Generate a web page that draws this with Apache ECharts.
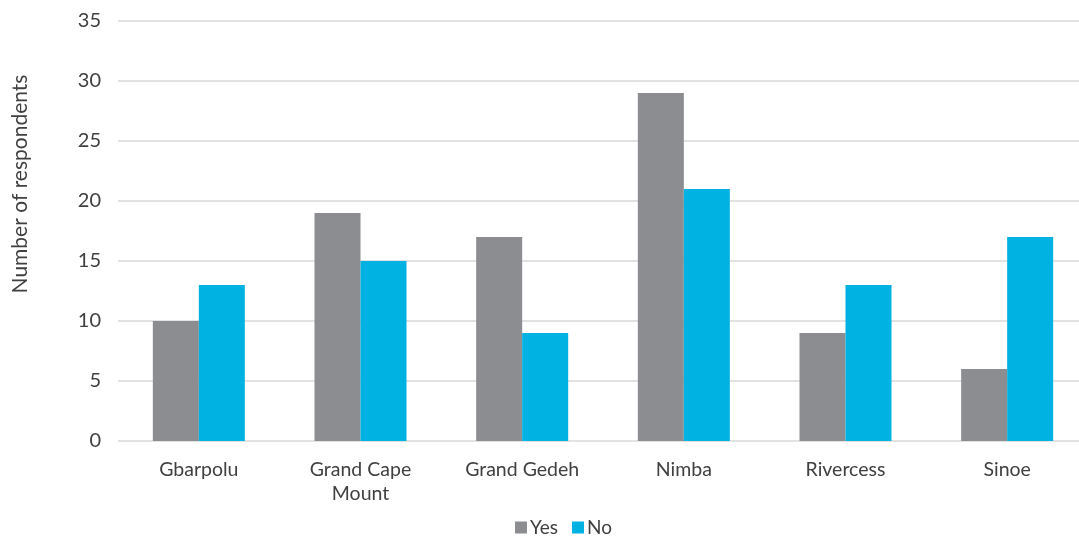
<!DOCTYPE html>
<html>
<head>
<meta charset="utf-8">
<script src="https://cdn.jsdelivr.net/npm/echarts@6/dist/echarts.min.js"></script>
<style>html,body{margin:0;padding:0;background:#fff;overflow:hidden;width:1079px;height:537px;}#c{width:1088px;height:537px;}</style>
</head>
<body>
<div id="c"></div>
<script>
const categories = ['Gbarpolu', 'Grand Cape\nMount', 'Grand Gedeh', 'Nimba', 'Rivercess', 'Sinoe'];
const yesValues = [10, 19, 17, 29, 9, 6];
const noValues = [13, 15, 9, 21, 13, 17];
const yAxisTitle = 'Number of respondents';

const chart = echarts.init(document.getElementById('c'));
const font = 'Lato, "Open Sans", sans-serif';
chart.setOption({
  animation: false,
  textStyle: { fontFamily: font },
  grid: { left: 118, top: 21, right: 0, height: 420 },
  legend: {
    top: 513, left: 510,
    itemWidth: 12, itemHeight: 12, itemGap: 14,
    icon: 'rect',
    textStyle: { fontSize: 19, color: '#404040', fontFamily: font, padding: [0, 0, 0, -2] },
    data: ['Yes', 'No']
  },
  graphic: [{
    type: 'text', x: 20, y: 184, rotation: Math.PI / 2,
    style: { text: yAxisTitle, font: '21px ' + font, fill: '#404040', textAlign: 'center', textVerticalAlign: 'middle' },
    silent: true
  }],
  xAxis: {
    type: 'category', data: categories,
    axisLine: { show: false }, axisTick: { show: false },
    axisLabel: { fontSize: 19.5, color: '#404040', margin: 17, lineHeight: 24, interval: 0 }
  },
  yAxis: {
    type: 'value', min: 0, max: 35, interval: 5,
    axisLine: { show: false }, axisTick: { show: false },
    axisLabel: { fontSize: 20, color: '#404040', margin: 17 },
    splitLine: { lineStyle: { color: '#d9d9d9', width: 1.5 } }
  },
  series: [
    { name: 'Yes', type: 'bar', data: yesValues, barWidth: 46, barGap: '0%',
      itemStyle: { color: '#8c8d91' } },
    { name: 'No', type: 'bar', data: noValues, barWidth: 46,
      itemStyle: { color: '#00b2e2' } }
  ]
});
</script>
</body>
</html>
